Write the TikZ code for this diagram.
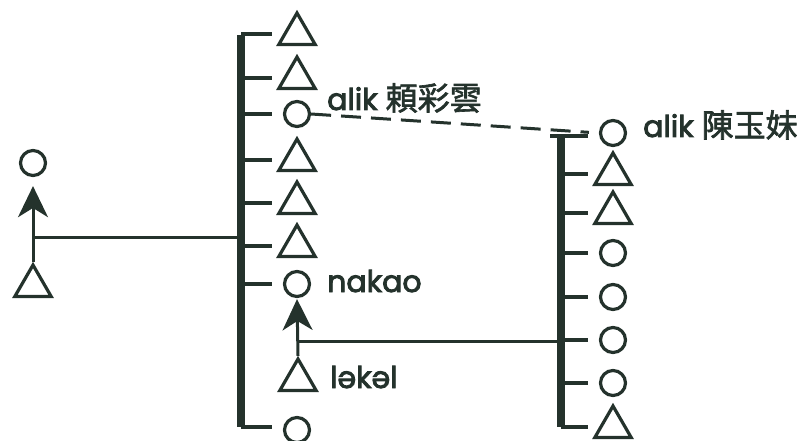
\documentclass[tikz,border=0pt]{standalone}
\usepackage{fontspec}
\usetikzlibrary{shapes.geometric,arrows.meta}
\newfontfamily\latfont[FakeBold=3]{Poppins}
\newfontfamily\cjkfont[FakeBold=2]{Noto Sans CJK TC}
\definecolor{ink}{RGB}{36,50,44}

\begin{document}
\begin{tikzpicture}[x=1pt, y=-1pt,
  fem/.style={circle, draw=ink, line width=3.2pt, minimum size=25pt, inner sep=0pt},
  mal/.style={regular polygon, regular polygon sides=3, draw=ink,
              line width=3.2pt, minimum size=42pt, inner sep=0pt},
  bar/.style={draw=ink, line width=8pt},
  tick/.style={draw=ink, line width=3.6pt},
  link/.style={draw=ink, line width=3pt},
  marr/.style={link, arrows={-Stealth[length=27pt 0,width=26pt 0,inset=8pt 0,scale=1.15]}},
  lab/.style={anchor=base west, text=ink, inner sep=0pt,
              font=\fontsize{30}{32}\selectfont\latfont}
]
  \useasboundingbox (0,0) rectangle (803,441);
  \coordinate (lbar) at (241,0);
  \coordinate (rbar) at (561,0);

  % left sibling set
  \node[mal] (L1) at (297,34)  {};
  \node[mal] (L2) at (297,78)  {};
  \node[fem] (L3) at (297,114) {};
  \node[mal] (L4) at (297,160) {};
  \node[mal] (L5) at (297,203) {};
  \node[mal] (L6) at (297,246) {};
  \node[fem] (L7) at (297,284) {};
  \node[mal] (L8) at (298,380) {};
  \node[fem] (L9) at (297,430) {};
  \draw[bar] ([yshift=-1.5pt]lbar |- L1) -- ([yshift=3pt]lbar |- L9);
  \foreach \n in {L1,L2,L3,L4,L5,L6,L7}
    \draw[tick] (lbar |- \n) -- ++(31,0);
  \draw[tick] ([yshift=3pt]lbar |- L9) -- ++(31,0);

  % right sibling set
  \node[fem] (R1) at (613,133) {};
  \node[mal] (R2) at (613,174) {};
  \node[mal] (R3) at (613,213) {};
  \node[fem] (R4) at (613,253) {};
  \node[fem] (R5) at (613,297) {};
  \node[fem] (R6) at (613,340) {};
  \node[fem] (R7) at (613,383) {};
  \node[mal] (R8) at (613,427) {};
  \draw[bar] ([yshift=-3pt]rbar |- R1) -- (rbar |- R8);
  \draw[tick] ([xshift=-11pt,yshift=-3pt]rbar |- R1) -- ++(38,0);
  \foreach \n in {R2,R3,R4,R5,R6,R7,R8}
    \draw[tick] (rbar |- \n) -- ++(27,0);

  % outside pair
  \node[fem] (A) at (33,163) {};
  \node[mal] (B) at (33,286) {};
  \draw[marr, shorten >=9pt] (B.north) -- (A.south);
  \coordinate (j1) at (33,237);
  \draw[link] (j1) -- (j1 -| lbar);

  \draw[marr, shorten >=1pt] (L8.north) -- (L7.south);
  \coordinate (j2) at (298,341);
  \draw[link] (j2) -- (j2 -| rbar);

  \draw[link, dash pattern=on 20pt off 10pt, shorten >=10pt] (L3.east) -- (R1.west);

  % names
  \node[lab] (t1) at (327,110) {alik {\cjkfont\fontsize{32}{34}\selectfont 頼彩雲}};
  \node[lab] (t2) at (643,137) {alik {\cjkfont\fontsize{32}{34}\selectfont 陳玉妹}};
  \node[lab] (t3) at (327,292) {nakao};
  \node[lab] (t4) at (330,388) {ləkəl};
\end{tikzpicture}
\end{document}
